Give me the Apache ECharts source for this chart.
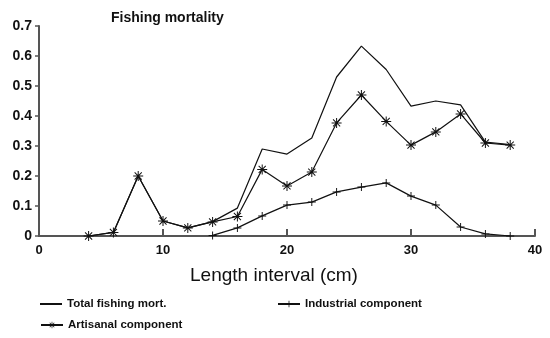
<!DOCTYPE html>
<html>
<head>
<meta charset="utf-8">
<script src="https://cdn.jsdelivr.net/npm/echarts@6/dist/echarts.min.js"></script>
<style>
  html, body { margin: 0; padding: 0; background: #fff; }
  #main { width: 550px; height: 338px; }
</style>
</head>
<body>
<div id="main"></div>
<script>
// length classes (cm)
var lengths = [4, 6, 8, 10, 12, 14, 16, 18, 20, 22, 24, 26, 28, 30, 32, 34, 36, 38];
var totalF = [0, 0.012, 0.2, 0.05, 0.027, 0.048, 0.093, 0.29, 0.273, 0.327, 0.53, 0.633, 0.555, 0.433, 0.45, 0.437, 0.313, 0.305];
var artisanal = [0, 0.012, 0.2, 0.05, 0.027, 0.047, 0.065, 0.222, 0.167, 0.213, 0.377, 0.47, 0.382, 0.303, 0.347, 0.407, 0.31, 0.303];
var industrialLengths = [14, 16, 18, 20, 22, 24, 26, 28, 30, 32, 34, 36, 38];
var industrial = [0.002, 0.027, 0.067, 0.103, 0.113, 0.147, 0.163, 0.177, 0.133, 0.103, 0.03, 0.007, 0];
var yTicks = [0, 0.1, 0.2, 0.3, 0.4, 0.5, 0.6, 0.7];

function pairs(xs, ys) {
  return xs.map(function (x, i) { return [x, ys[i]]; });
}

var starPath = 'path://M4.5,0L5.5,0L5.5,3.8L8.2,1.1L8.9,1.8L6.2,4.5L10,4.5L10,5.5L6.2,5.5L8.9,8.2L8.2,8.9L5.5,6.2L5.5,10L4.5,10L4.5,6.2L1.8,8.9L1.1,8.2L3.8,5.5L0,5.5L0,4.5L3.8,4.5L1.1,1.8L1.8,1.1L4.5,3.8Z';
var plusPath = 'path://M4.4,0H5.6V4.4H10V5.6H5.6V10H4.4V5.6H0V4.4H4.4Z';
// plain line for the legend (invisible 0,0-0,8 stroke keeps the box tall)
var linePath = 'path://M0,0L0,8M0,3H22V5H0Z';
var ink = '#111';
var font = '"Liberation Sans", Arial, sans-serif';

var chart = echarts.init(document.getElementById('main'), null, { renderer: 'canvas' });
var legendText = { fontFamily: font, fontSize: 11.5, fontWeight: 'bold', color: ink };
var option = {
  animation: false,
  backgroundColor: '#fff',
  title: {
    text: 'Fishing mortality',
    left: 106, top: 6,
    textStyle: { fontFamily: font, fontSize: 14, fontWeight: 'bold', color: ink }
  },
  grid: { left: 39, right: 15, top: 26, bottom: 102 },
  legend: [
    { data: [{ name: 'Total fishing mort.', icon: linePath }], left: 35, top: 293, itemWidth: 22, itemHeight: 8, itemGap: 10, textStyle: legendText },
    { data: ['Industrial component'], left: 272, top: 293, itemWidth: 22, itemHeight: 8, textStyle: legendText },
    { data: ['Artisanal component'], left: 35, top: 314, itemWidth: 22, itemHeight: 8, textStyle: legendText }
  ],
  xAxis: {
    type: 'value', min: 0, max: 40, interval: 10,
    name: 'Length interval (cm)', nameLocation: 'middle', nameGap: 30,
    nameTextStyle: { fontFamily: font, fontSize: 19, color: ink, padding: [0, 26, 0, 0] },
    axisLine: { lineStyle: { color: '#555', width: 2 } },
    axisTick: { inside: true, length: 7, lineStyle: { color: '#555', width: 2 } },
    axisLabel: { fontFamily: font, fontSize: 13, fontWeight: 'bold', color: ink, margin: 8 },
    splitLine: { show: false }
  },
  yAxis: {
    type: 'value', min: 0, max: 0.7, interval: 0.1,
    axisLine: { show: true, lineStyle: { color: '#555', width: 2 } },
    axisTick: { show: true, length: 4, lineStyle: { color: '#555', width: 1.5 } },
    axisLabel: {
      fontFamily: font, fontSize: 14, fontWeight: 'bold', color: ink, margin: 7,
      formatter: function (v) {
        var t = yTicks.filter(function (k) { return Math.abs(k - v) < 1e-9; })[0];
        return t === 0 ? '0' : t.toFixed(1);
      }
    },
    splitLine: { show: false }
  },
  series: [
    {
      name: 'Total fishing mort.', type: 'line',
      data: pairs(lengths, totalF),
      symbol: 'none',
      itemStyle: { color: ink },
      lineStyle: { color: ink, width: 1.2 }
    },
    {
      name: 'Industrial component', type: 'line',
      data: pairs(industrialLengths, industrial),
      symbol: plusPath, symbolSize: [8, 8],
      itemStyle: { color: ink },
      lineStyle: { color: ink, width: 1.2 }
    },
    {
      name: 'Artisanal component', type: 'line',
      data: pairs(lengths, artisanal),
      symbol: starPath, symbolSize: 10,
      itemStyle: { color: ink },
      lineStyle: { color: ink, width: 1.2 }
    }
  ]
};
chart.setOption(option);
</script>
</body>
</html>
